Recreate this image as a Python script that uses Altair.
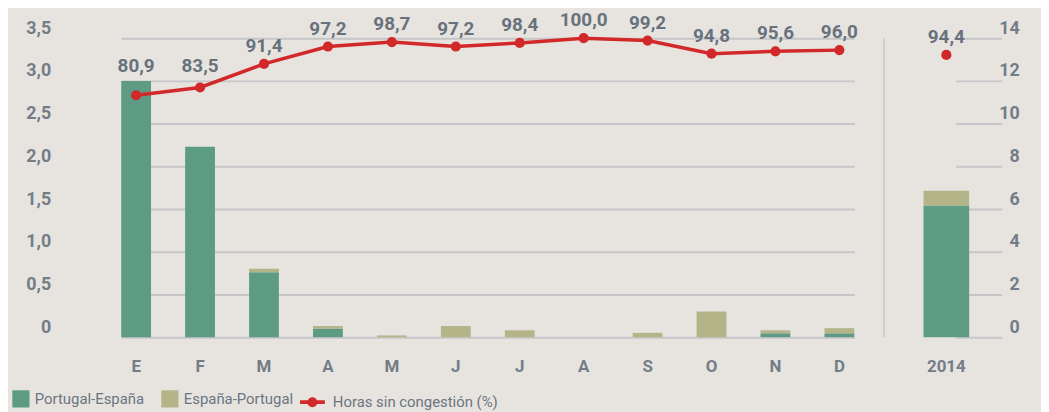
import altair as alt
import pandas as pd

# ---------------- data ----------------
meses = ["Ene", "Feb", "Mar", "Abr", "May", "Jun", "Jul", "Ago", "Sep", "Oct", "Nov", "Dic"]
portugal_espana = [3.00, 2.23, 0.76, 0.10, 0.0, 0.0, 0.0, 0.0, 0.0, 0.0, 0.045, 0.045]
espana_portugal = [0.0, 0.0, 0.04, 0.03, 0.02, 0.13, 0.08, 0.0, 0.05, 0.30, 0.035, 0.06]
horas_sin_congestion = [80.9, 83.5, 91.4, 97.2, 98.7, 97.2, 98.4, 100.0, 99.2, 94.8, 95.6, 96.0]

anual = ["2014"]
anual_portugal_espana = [6.17]
anual_espana_portugal = [0.68]
anual_horas = [94.4]

series = ["Portugal-España", "España-Portugal"]
linea_nombre = "Horas sin congestión (%)"

left_ticks = [0, 0.5, 1.0, 1.5, 2.0, 2.5, 3.0, 3.5]
right_ticks = [0, 2, 4, 6, 8, 10, 12, 14]

# ---------------- tables ----------------
def bars_table(cats, pe, ep):
    rows = []
    for c, a, b in zip(cats, pe, ep):
        rows.append({"mes": c, "serie": series[0], "valor": a, "orden": 0})
        rows.append({"mes": c, "serie": series[1], "valor": b, "orden": 1})
    return pd.DataFrame(rows)

df_bars = bars_table(meses, portugal_espana, espana_portugal)
df_line = pd.DataFrame({"mes": meses, "pct": horas_sin_congestion, "leyenda": linea_nombre})
df_bars_a = bars_table(anual, anual_portugal_espana, anual_espana_portugal)
df_line_a = pd.DataFrame({"mes": anual, "pct": anual_horas})

# ---------------- style ----------------
W1, W2, H = 881, 158, 301
GREEN, TAN, RED = "#5e9b84", "#b3b488", "#d1292a"
BG = "#e7e4e0"
GRID = "#c6c6c8"
FONT = "Roboto"
AXC = "#737d87"
VALC = "#67727c"
LEGC = "#6b7580"

color = alt.Color(
    "serie:N",
    scale=alt.Scale(domain=series, range=[GREEN, TAN]),
    legend=alt.Legend(
        title=None, orient="none", legendX=4, legendY=354, direction="horizontal",
        symbolType="square", symbolSize=300, symbolStrokeWidth=0,
        labelFont=FONT, labelFontSize=15, labelColor=LEGC, labelOffset=5,
        columnPadding=16, padding=0, labelLimit=0,
    ),
)
order = alt.Order("orden:Q")

xaxis = dict(title=None, labelAngle=0, ticks=False, domain=False, grid=False,
             labelPadding=22, labelFont=FONT, labelFontSize=17,
             labelFontWeight="bold", labelColor=AXC)

xm = alt.X("mes:N", sort=meses,
           scale=alt.Scale(domain=meses, paddingInner=0.534, paddingOuter=0, range=[114, 852]),
           axis=alt.Axis(labelExpr="substring(datum.value, 0, 1)", **xaxis))
xa = alt.X("mes:N",
           scale=alt.Scale(domain=anual, paddingInner=0, paddingOuter=0, range=[39.7, 85.7]),
           axis=alt.Axis(**xaxis))

yaxis_common = dict(title=None, grid=True, gridColor=GRID, gridWidth=2, ticks=False,
                    domain=False, labelAlign="right", labelBaseline="alphabetic",
                    labelOffset=-5, labelFont=FONT, labelFontSize=18,
                    labelFontWeight="bold", labelColor=AXC, labelFlush=False,
                    labelOverlap=False)

y_left = alt.Y("valor:Q", stack="zero",
               scale=alt.Scale(domain=[0, 3.5], nice=False),
               axis=alt.Axis(values=left_ticks, orient="left", labelPadding=-43,
                             labelExpr="datum.value == 0 ? '0' : replace(format(datum.value, '.1f'), '.', ',')",
                             **yaxis_common))
y_right = alt.Y("valor:Q", stack="zero",
                scale=alt.Scale(domain=[0, 14], nice=False),
                axis=alt.Axis(values=right_ticks, orient="right", labelPadding=-22,
                              labelExpr="format(datum.value, 'd')", **yaxis_common))
y_pct = alt.Y("pct:Q", scale=alt.Scale(domain=[0, 100], nice=False), axis=None)

line_legend = alt.Legend(
    title=None, orient="none", legendX=294, legendY=354,
    symbolType="M-1,-0.15L1,-0.15L1,0.15L-1,0.15Z M-0.4,0A0.4,0.4 0 1,1 0.4,0A0.4,0.4 0 1,1 -0.4,0Z",
    symbolSize=625, symbolFillColor=RED, symbolStrokeWidth=0,
    labelFont=FONT, labelFontSize=15, labelColor=LEGC, labelOffset=8, padding=0,
    labelLimit=0,
)

text_fmt = "replace(format(datum.pct, '.1f'), '.', ',')"


def label_layer(data, x, filt, dy):
    base = alt.Chart(data)
    if filt is not None:
        base = base.transform_filter(filt)
    return base.transform_calculate(txt=text_fmt).mark_text(
        font=FONT, fontSize=19, fontWeight="bold", color=VALC, baseline="alphabetic", dy=dy
    ).encode(x=x, y=y_pct, text="txt:N")


# ---------------- left panel (months) ----------------
bars_left = alt.Chart(df_bars).mark_bar().encode(x=xm, y=y_left, color=color, order=order)
line = alt.Chart(df_line).mark_line(color=RED, strokeWidth=3.5).encode(x=xm, y=y_pct)
points = alt.Chart(df_line).mark_point(filled=True, size=105, color=RED).encode(
    x=xm, y=y_pct,
    opacity=alt.Opacity("leyenda:N", scale=alt.Scale(domain=[linea_nombre], range=[1]), legend=line_legend),
)
lab_e = label_layer(df_line, xm, "datum.mes == 'Ene'", -23)
lab_f = label_layer(df_line, xm, "datum.mes == 'Feb'", -16)
lab_o = label_layer(df_line, xm, "datum.mes != 'Ene' && datum.mes != 'Feb'", -12)

left = alt.layer(bars_left, line, points, lab_e, lab_f, lab_o).resolve_scale(
    y="independent").properties(width=W1, height=H)

# ---------------- right panel (year) ----------------
sep = alt.Chart(df_line_a).mark_rule(color=GRID, strokeWidth=1.5).encode(
    x=alt.value(0), y=alt.value(0), y2=alt.value(H))
bars_right = alt.Chart(df_bars_a).mark_bar().encode(x=xa, y=y_right, color=color, order=order)
point_right = alt.Chart(df_line_a).mark_point(filled=True, size=105, color=RED, opacity=1).encode(x=xa, y=y_pct)
lab_right = label_layer(df_line_a, xa, None, -12)

right = alt.layer(sep, bars_right, point_right, lab_right).resolve_scale(
    y="independent").properties(width=W2, height=H)

chart = alt.hconcat(left, right, spacing=0).properties(
    background=BG, padding={"left": 0, "top": 2, "right": 0, "bottom": 0}
).configure_view(strokeWidth=0)

chart.save("out.html", embed_options={"renderer": "svg", "actions": False})
